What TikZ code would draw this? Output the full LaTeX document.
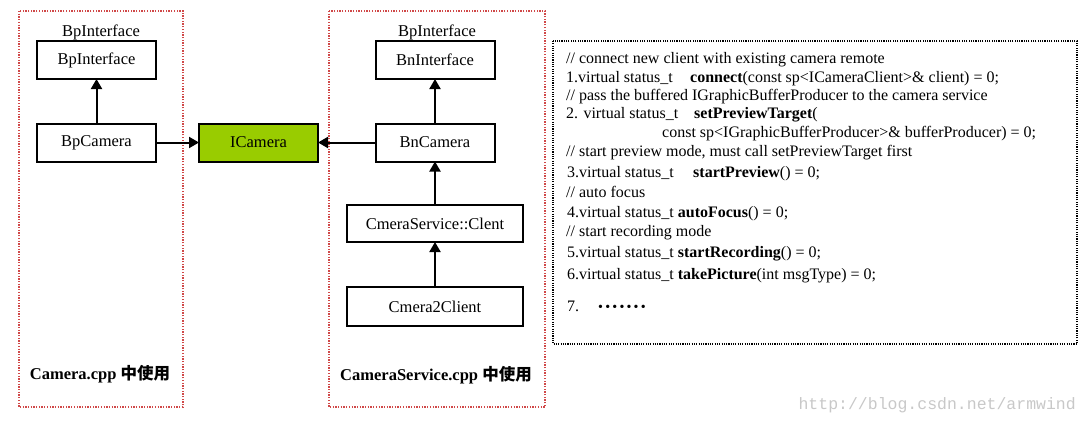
\documentclass[tikz,border=0pt]{standalone}
\usepackage{fontspec}
\setmainfont{Liberation Serif}
\newfontfamily\cjk{Noto Sans CJK SC}
\newfontfamily\wmfont{Liberation Mono}
\usetikzlibrary{arrows.meta}
\definecolor{icgreen}{RGB}{153,204,0}
\definecolor{frred}{RGB}{208,72,72}
\definecolor{wmgray}{RGB}{200,200,200}
\tikzset{
  cls/.style={draw=black, line width=2pt, minimum width=119pt, minimum height=38pt,
    inner sep=0pt, outer sep=0pt, font=\fontsize{16.5}{18}\selectfont},
  wide/.style={cls, minimum width=176pt},
  inh/.style={line width=2pt, -{Triangle[length=10pt,width=11pt]}},
  frame/.style={draw=frred, line width=1.6pt, dash pattern=on 1.3pt off 1.4pt},
  codeframe/.style={draw=black, line width=1.4pt, dash pattern=on 1.1pt off 1.2pt},
  code/.style={anchor=base west, inner sep=0pt, font=\fontsize{16}{19}\selectfont},
  lbl/.style={anchor=base, inner sep=0pt, font=\fontsize{16.5}{18}\selectfont},
  cpp/.style={anchor=base, inner sep=0pt, font=\fontsize{16.5}{18}\selectfont\bfseries}
}
\begin{document}
\begin{tikzpicture}[x=1pt,y=-1pt]
\useasboundingbox (0,0) rectangle (1087,423);
% frames
\draw[frame] (19,11) rectangle (183,407);
\draw[frame] (329,11) rectangle (545,407);
\draw[codeframe] (553,41) rectangle (1077,344);
% left side
\node[lbl] (lbpi) at (101,36) {BpInterface};
\node[cls] (bpi) at (96.5,60) {BpInterface};
\node[cls] (bpc) at (96.5,142.5) {BpCamera};
\node[cls, fill=icgreen] (icam) at (258.5,142.5) {ICamera};
% right side
\node[lbl] (rbpi) at (437,36) {BpInterface};
\node[cls] (bni) at (435,60) {BnInterface};
\node[cls] (bnc) at (435,142.5) {BnCamera};
\node[wide, minimum height=37pt] (csc) at (435,223.5) {CmeraService::Clent};
\node[wide, minimum height=39pt] (c2c) at (435,306.5) {Cmera2Client};
% arrows
\draw[inh] (bpc) -- (bpi);
\draw[inh] (bpc) -- (icam);
\draw[inh] (bnc) -- (icam);
\draw[inh] (bnc) -- (bni);
\draw[inh] (csc) -- (bnc);
\draw[inh] (c2c) -- (csc);
% bottom labels
\node[cpp] (lcpp) at (100,379) {Camera.cpp {\cjk 中使用}};
\node[cpp] (rcpp) at (436,380) {CameraService.cpp {\cjk 中使用}};
% code
\node[code] (l1) at (566,63) {// connect new client with existing camera remote};
\node[code] (l2a) at (566,82) {1.virtual status\_t};
\node[code] (l2b) at (690,82) {\textbf{connect}(const sp<ICameraClient>\& client) = 0;};
\node[code] (l3) at (566,100) {// pass the buffered IGraphicBufferProducer to the camera service};
\node[code] (l4a) at (566,118) {2. virtual status\_t};
\node[code] (l4b) at (694,118) {\textbf{setPreviewTarget}(};
\node[code] (l5) at (662,137) {const sp<IGraphicBufferProducer>\& bufferProducer) = 0;};
\node[code] (l6) at (566,156) {// start preview mode, must call setPreviewTarget first};
\node[code] (l7a) at (567,177) {3.virtual status\_t};
\node[code] (l7b) at (693,177) {\textbf{startPreview}() = 0;};
\node[code] (l8) at (566,197) {// auto focus};
\node[code] (l9) at (567,217) {4.virtual status\_t \textbf{autoFocus}() = 0;};
\node[code] (l10) at (566,236) {// start recording mode};
\node[code] (l11) at (567,257) {5.virtual status\_t \textbf{startRecording}() = 0;};
\node[code] (l12) at (567,279) {6.virtual status\_t \textbf{takePicture}(int msgType) = 0;};
\node[code] (l13a) at (567,311) {7.};
\node[code, font=\fontsize{14}{15}\selectfont] (l13b) at (598,311) {•\kern2.2pt•\kern2.2pt•\kern2.2pt•\kern2.2pt•\kern2.2pt•\kern2.2pt•};
% watermark
\node[anchor=base east, inner sep=0pt, text=wmgray, font=\wmfont\fontsize{16.5}{18}\selectfont] (wm) at (1076,409) {http://blog.csdn.net/armwind};
\end{tikzpicture}
\end{document}
